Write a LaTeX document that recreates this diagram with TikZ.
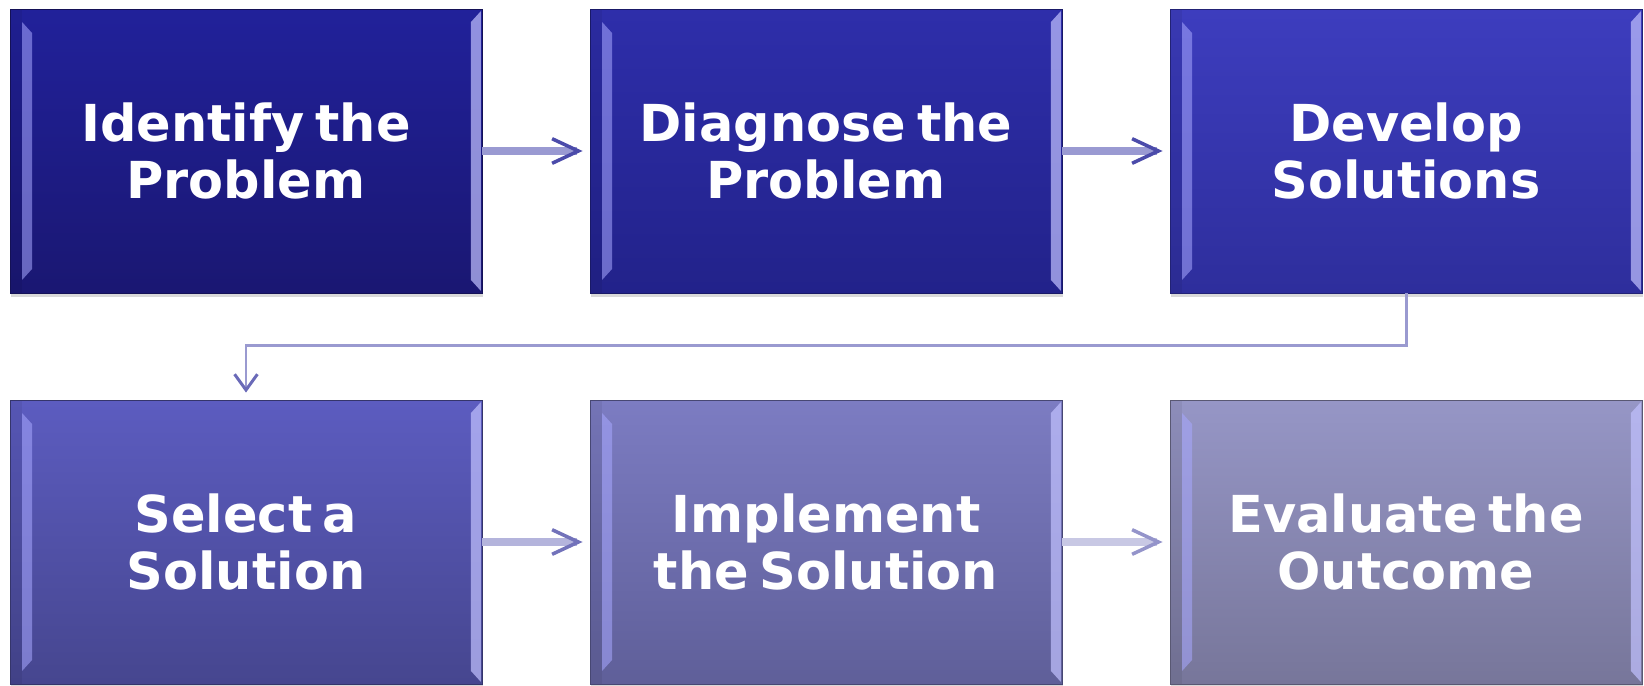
\documentclass[tikz,border=0pt]{standalone}
\usepackage{fontspec}
\setmainfont{DejaVu Sans}[WordSpace=0.6]
\usepackage{tikz}
\usetikzlibrary{arrows.meta,calc,shadows}

\definecolor{boxAtop}{HTML}{21219A}\definecolor{boxAbot}{HTML}{1A1772}
\definecolor{boxBtop}{HTML}{2E2EAA}\definecolor{boxBbot}{HTML}{22228A}
\definecolor{boxCtop}{HTML}{3D3DBE}\definecolor{boxCbot}{HTML}{2E2E9C}
\definecolor{boxDtop}{HTML}{5C5CC0}\definecolor{boxDbot}{HTML}{46468F}
\definecolor{boxEtop}{HTML}{7C7CC2}\definecolor{boxEbot}{HTML}{5F5F99}
\definecolor{boxFtop}{HTML}{9696C6}\definecolor{boxFbot}{HTML}{77769A}
\definecolor{bevellight}{HTML}{A8A8FF}
\definecolor{lineA}{HTML}{9A9AD2}\definecolor{headA}{HTML}{4B4BAA}
\definecolor{lineB}{HTML}{B4B4DC}\definecolor{headB}{HTML}{7272BA}
\definecolor{lineC}{HTML}{C8C8E4}\definecolor{headC}{HTML}{9494CA}
\definecolor{elbowline}{HTML}{9A9AD0}
\definecolor{elbowhead}{HTML}{6A6AB8}

\tikzset{
  stagebox/.style 2 args={rectangle, minimum width=9.44cm, minimum height=5.68cm,
    inner sep=0pt, align=center, text=white,
    font=\bfseries\fontsize{29}{33}\selectfont,
    top color=#1, bottom color=#2, draw=#2!75!black, line width=0.5pt,
    drop shadow={opacity=0.3, shadow xshift=0.4pt, shadow yshift=-2.5pt},
    path picture={
      \fill[black, fill opacity=0.06]
        (path picture bounding box.north west) rectangle
        ($(path picture bounding box.south west)+(12,0)$);
      \fill[bevellight, fill opacity=0.55]
        ($(path picture bounding box.north west)+(12,13)$) --
        ($(path picture bounding box.north west)+(22,24)$) --
        ($(path picture bounding box.south west)+(22,-24)$) --
        ($(path picture bounding box.south west)+(12,-13)$) -- cycle;
      \fill[bevellight!70!white, fill opacity=0.7]
        ($(path picture bounding box.north east)+(-1,2)$) --
        ($(path picture bounding box.north east)+(-11,13)$) --
        ($(path picture bounding box.south east)+(-11,-13)$) --
        ($(path picture bounding box.south east)+(-1,-2)$) -- cycle;
    }},
  flow/.style 2 args={draw=#1, line width=4pt, shorten >=4pt,
    -{Straight Barb[color=#2, length=15pt, width=14pt, line width=2pt]}},
}

\begin{document}
\begin{tikzpicture}[x=0.02cm, y=-0.02cm]
\useasboundingbox (0,0) rectangle (1644,686);

% process steps
\node[stagebox={boxAtop}{boxAbot}] (idn) at (246,151) {Identify the\\Problem};
\node[stagebox={boxBtop}{boxBbot}] (dia) at (826,151) {Diagnose the\\Problem};
\node[stagebox={boxCtop}{boxCbot}] (dev) at (1406,151) {Develop\\Solutions};

\node[stagebox={boxDtop}{boxDbot}] (sel) at (246,542) {Select a\\Solution};
\node[stagebox={boxEtop}{boxEbot}] (imp) at (826,542) {Implement\\the Solution};
\node[stagebox={boxFtop}{boxFbot}] (eva) at (1406,542) {Evaluate the\\Outcome};

% connectors
\path (idn) edge[flow={lineA}{headA}] (dia);
\path (dia) edge[flow={lineA}{headA}] (dev);
\path (sel) edge[flow={lineB}{headB}] (imp);
\path (imp) edge[flow={lineC}{headC}] (eva);

\draw[draw=elbowline, line width=1.7pt, shorten >=4pt,
  -{Straight Barb[color=elbowhead, length=9pt, width=13pt, line width=1.7pt]}]
  (dev.south) |- ([yshift=1.08cm]sel.north) -- (sel.north);

\end{tikzpicture}
\end{document}
